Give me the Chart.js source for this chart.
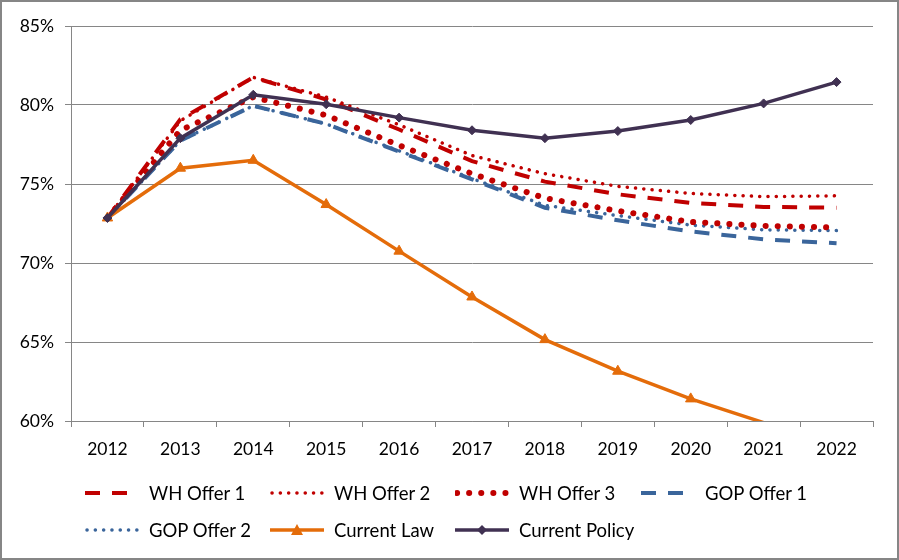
<!DOCTYPE html>
<html>
<head>
<meta charset="utf-8">
<script src="https://cdn.jsdelivr.net/npm/chart.js@4.4.1/dist/chart.umd.min.js"></script>
<style>
  html, body { margin: 0; padding: 0; background: #fff; }
  #wrap {
    position: relative;
    width: 899px; height: 560px;
    box-sizing: border-box;
    border: 2px solid #868686;
    overflow: hidden;
    font-family: Lato, "Open Sans", sans-serif;
  }
  #chartBox { position: absolute; left: -2px; top: -2px; width: 899px; height: 470px; }
  #legend { position: absolute; left: -2px; top: -2px; width: 899px; height: 560px; pointer-events: none; }
  .lg-item { position: absolute; height: 24px; display: flex; align-items: center; font-size: 18.5px; color: #000; white-space: nowrap; }
  .lg-item svg { width: 54px; height: 14px; margin-right: 10px; }
</style>
</head>
<body>
<div id="wrap">
  <div id="chartBox"><canvas id="myChart"></canvas></div>
  <div id="legend"></div>
</div>
<script>
// data, in percent
var years = ['2012', '2013', '2014', '2015', '2016', '2017', '2018', '2019', '2020', '2021', '2022'];
var whOffer1 = [72.85, 79.1, 81.75, 80.35, 78.45, 76.45, 75.15, 74.35, 73.8, 73.55, 73.5];
var whOffer2 = [72.85, 79.0, 81.75, 80.5, 78.75, 76.8, 75.65, 74.85, 74.4, 74.2, 74.25];
var whOffer3 = [72.85, 78.4, 80.5, 79.35, 77.45, 75.65, 74.1, 73.3, 72.6, 72.35, 72.25];
var gopOffer1 = [72.85, 77.75, 79.95, 78.8, 77.05, 75.3, 73.5, 72.7, 72.0, 71.5, 71.25];
var gopOffer2 = [72.85, 77.75, 79.95, 78.8, 77.1, 75.35, 73.65, 73.0, 72.4, 72.1, 72.05];
var currentLaw = [72.85, 76.0, 76.5, 73.7, 70.75, 67.85, 65.15, 63.15, 61.4, 59.9, 58.4];
var currentPolicy = [72.85, 77.9, 80.65, 80.05, 79.2, 78.4, 77.9, 78.35, 79.05, 80.1, 81.45];
var yTicks = [60, 65, 70, 75, 80, 85];

var RED = '#C00000';
var BLUE = '#3A659B';
var ORANGE = '#E46C0A';
var PURPLE = '#403152';
var GRID = '#868686';

// markers below the axis minimum are hidden, like the original
function markerSize(r) {
  return function (ctx) { return ctx.raw < yTicks[0] ? 0 : r; };
}

function series(label, data, color, width, dash, cap, extra) {
  var ds = {
    label: label,
    data: data,
    borderColor: color,
    backgroundColor: color,
    borderWidth: width,
    borderDash: dash,
    borderCapStyle: cap,
    pointRadius: 0,
    tension: 0,
    fill: false,
    clip: 0,
    order: 2
  };
  for (var k in extra) ds[k] = extra[k];
  return ds;
}

var datasets = [
  series('WH Offer 1', whOffer1, RED, 4, [15, 12], 'butt'),
  series('WH Offer 2', whOffer2, RED, 3.5, [0.1, 8.2], 'round'),
  series('WH Offer 3', whOffer3, RED, 6, [0.1, 12], 'round'),
  series('GOP Offer 1', gopOffer1, BLUE, 4, [15, 12], 'butt'),
  series('GOP Offer 2', gopOffer2, BLUE, 3.5, [0.1, 8.2], 'round'),
  series('Current Law', currentLaw, ORANGE, 3.5, [], 'butt',
    { pointStyle: 'triangle', pointRadius: markerSize(6), pointBorderWidth: 1, order: 1 }),
  series('Current Policy', currentPolicy, PURPLE, 3.5, [], 'butt',
    { pointStyle: 'rectRot', pointRadius: markerSize(4.5), pointBorderWidth: 1, order: 0 })
];

var tickFont = { family: 'Lato', size: 17.5 };

var chart = new Chart(document.getElementById('myChart'), {
  type: 'line',
  data: { labels: years, datasets: datasets },
  options: {
    responsive: true,
    maintainAspectRatio: false,
    animation: false,
    layout: { padding: { left: 0, top: 26, right: 26, bottom: 0 } },
    plugins: {
      legend: { display: false },
      tooltip: { enabled: false }
    },
    scales: {
      x: {
        offset: true,
        grid: { drawOnChartArea: false, drawTicks: true, tickLength: 6, offset: true, color: GRID },
        border: { display: true, color: GRID, width: 1 },
        ticks: { color: '#000', font: tickFont, padding: 12, maxRotation: 0 },
        afterFit: function (scale) { scale.height = 49; }
      },
      y: {
        min: 60,
        max: 85,
        afterBuildTicks: function (scale) {
          scale.ticks = yTicks.map(function (v) { return { value: v }; });
        },
        grid: { color: GRID, lineWidth: 1, drawTicks: true, tickLength: 6 },
        border: { display: true, color: GRID, width: 1 },
        ticks: {
          color: '#000',
          font: tickFont,
          padding: 11,
          callback: function (v) { return v + '%'; }
        },
        afterFit: function (scale) { scale.width = 71; }
      }
    }
  }
});

// legend laid out in a grid like the original (text x positions per column)
function buildLegend() {
  var box = document.getElementById('legend');
  var textX = [149, 334, 519, 705];
  var rows = [493, 530];
  chart.data.datasets.forEach(function (ds, i) {
    var item = document.createElement('div');
    item.className = 'lg-item';
    item.style.left = (textX[i % 4] - 64) + 'px';
    item.style.top = (rows[Math.floor(i / 4)] - 12) + 'px';
    var dash = ds.borderDash.length ? ds.borderDash.join(' ') : 'none';
    var x1 = ds.borderCapStyle === 'round' ? 2 : 0;
    var svg = '<svg viewBox="0 0 54 14"><line x1="' + x1 + '" y1="7" x2="54" y2="7" stroke="' + ds.borderColor +
      '" stroke-width="' + ds.borderWidth + '" stroke-dasharray="' + dash + '" stroke-linecap="' + ds.borderCapStyle + '"/>';
    if (ds.pointStyle === 'triangle') {
      svg += '<polygon points="27,1 33,12 21,12" fill="' + ds.borderColor + '"/>';
    } else if (ds.pointStyle === 'rectRot') {
      svg += '<polygon points="27,2 32,7 27,12 22,7" fill="' + ds.borderColor + '"/>';
    }
    svg += '</svg>';
    item.innerHTML = svg + '<span>' + ds.label + '</span>';
    box.appendChild(item);
  });
}
buildLegend();
</script>
</body>
</html>
